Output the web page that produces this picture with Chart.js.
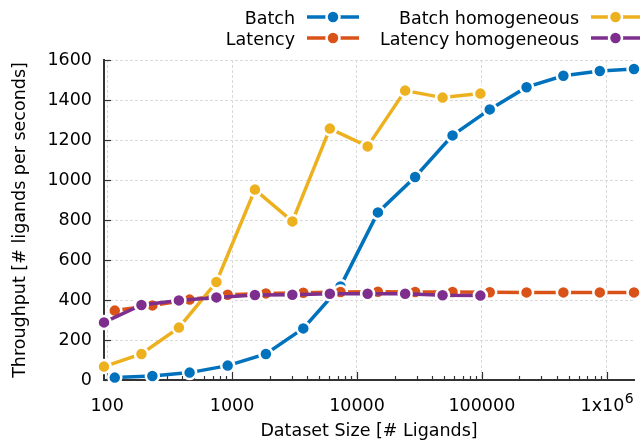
<!DOCTYPE html>
<html>
<head>
<meta charset="utf-8">
<script src="https://cdn.jsdelivr.net/npm/chart.js@4/dist/chart.umd.min.js"></script>
<style>
  html, body { margin: 0; padding: 0; background: #fff; }
  #wrap { width: 643px; height: 440px; }
</style>
</head>
<body>
<div id="wrap"><canvas id="c" width="643" height="440"></canvas></div>
<script>
// Dataset sizes (# ligands) for each run family
const batchSizes = [115, 230, 457, 922, 1865, 3716, 7380, 14710, 29210, 58240, 115600, 227900, 449300, 879400, 1652000];
const homogSizes = [94.3, 188, 375, 749, 1524, 3038, 6064, 12170, 24310, 48460, 97300];

// Throughput (# ligands per second)
const batchThroughput        = [12, 20, 37, 72, 130, 258, 468, 838, 1015, 1223, 1353, 1464, 1521, 1545, 1555];
const latencyThroughput      = [347, 373, 402, 426, 433, 436, 440, 441, 440, 440, 439, 438, 438, 438, 438];
const batchHomogThroughput   = [67, 130, 262, 490, 952, 793, 1257, 1168, 1447, 1412, 1432];
const latencyHomogThroughput = [288, 375, 398, 413, 425, 426, 431, 431, 431, 424, 422];

// Axis ticks
const xMajorTicks = [100, 1000, 10000, 100000, 1000000];
const yTicks = [0, 200, 400, 600, 800, 1000, 1200, 1400, 1600];

const FONT = "'DejaVu Sans', sans-serif";
const FONT_SIZE = 17.5;
const X_LABEL_PAD = 16;

const seriesDefs = [
  { label: 'Batch',                xs: batchSizes, ys: batchThroughput,        color: '#0072BD', order: 4 },
  { label: 'Latency',              xs: batchSizes, ys: latencyThroughput,      color: '#D95319', order: 3 },
  { label: 'Batch homogeneous',    xs: homogSizes, ys: batchHomogThroughput,   color: '#EDB120', order: 2 },
  { label: 'Latency homogeneous',  xs: homogSizes, ys: latencyHomogThroughput, color: '#7E2F8E', order: 1 }
];

const isPow10 = v => Math.abs(Math.log10(v) - Math.round(Math.log10(v))) < 1e-9;

// Decade ticks plus 2..9 minors inside the axis range
function logTicks(min, max) {
  const out = [];
  for (let e = Math.floor(Math.log10(min)); e <= Math.ceil(Math.log10(max)); e++) {
    for (let m = 1; m <= 9; m++) {
      const v = m * Math.pow(10, e);
      if (v >= min && v <= max) out.push({ value: v, major: m === 1 });
    }
  }
  return out;
}

// Decade label text; 10^6 gets its exponent drawn separately as a raised "6"
function decadeLabel(v) {
  if (!xMajorTicks.includes(v)) return '';
  return v === 1000000 ? '1x10\u2002' : String(v);
}

// Inward tick marks on the bottom and left axes
const inwardTicks = {
  id: 'inwardTicks',
  beforeDatasetsDraw(chart) {
    const { ctx, chartArea: a, scales: { x, y } } = chart;
    ctx.save();
    ctx.strokeStyle = '#333';
    ctx.lineWidth = 1.2;
    x.ticks.forEach(t => {
      const px = Math.round(x.getPixelForValue(t.value)) + 0.5;
      const len = isPow10(t.value) ? 8 : 4;
      ctx.beginPath();
      ctx.moveTo(px, a.bottom);
      ctx.lineTo(px, a.bottom - len);
      ctx.stroke();
    });
    y.ticks.forEach(t => {
      const py = Math.round(y.getPixelForValue(t.value)) + 0.5;
      ctx.beginPath();
      ctx.moveTo(a.left, py);
      ctx.lineTo(a.left + 7, py);
      ctx.stroke();
    });
    ctx.restore();
  }
};

// Raised exponent for the 1x10^6 tick label
const exponentLabel = {
  id: 'exponentLabel',
  afterDraw(chart) {
    const { ctx, scales: { x } } = chart;
    const v = 1000000;
    if (v > x.max) return;
    ctx.save();
    ctx.font = FONT_SIZE + 'px ' + FONT;
    const full = ctx.measureText(decadeLabel(v)).width;
    const base = ctx.measureText('1x10').width;
    const px = x.getPixelForValue(v) - full / 2 + base + 0.5;
    const midY = x.top + X_LABEL_PAD + FONT_SIZE * 1.2 / 2;
    ctx.font = (FONT_SIZE * 0.8) + 'px ' + FONT;
    ctx.fillStyle = '#000';
    ctx.textAlign = 'left';
    ctx.textBaseline = 'middle';
    ctx.fillText('6', px, midY - 7);
    ctx.restore();
  }
};

// Two-column key above the plot: right-aligned text followed by a line sample with a marker
const keyBox = {
  id: 'keyBox',
  afterDraw(chart) {
    const ctx = chart.ctx;
    const cols = [
      { textRight: 295, x0: 307, x1: 359 },
      { textRight: 579, x0: 591, x1: 640 }
    ];
    const rows = [{ base: 24, mid: 17 }, { base: 45, mid: 38 }];
    ctx.save();
    ctx.font = FONT_SIZE + 'px ' + FONT;
    ctx.textAlign = 'right';
    ctx.textBaseline = 'alphabetic';
    chart.data.datasets.forEach((ds, i) => {
      const col = cols[Math.floor(i / 2)];
      const row = rows[i % 2];
      ctx.fillStyle = '#000';
      ctx.fillText(ds.label, col.textRight, row.base);
      ctx.strokeStyle = ds.borderColor;
      ctx.lineWidth = 3.5;
      ctx.beginPath();
      ctx.moveTo(col.x0, row.mid);
      ctx.lineTo(col.x1, row.mid);
      ctx.stroke();
      const cx = (col.x0 + col.x1) / 2;
      ctx.beginPath();
      ctx.arc(cx, row.mid, 6.5, 0, Math.PI * 2);
      ctx.fillStyle = ds.borderColor;
      ctx.fill();
      ctx.lineWidth = 2.5;
      ctx.strokeStyle = '#fff';
      ctx.stroke();
    });
    ctx.restore();
  }
};

const datasets = seriesDefs.map(s => ({
  label: s.label,
  data: s.xs.map((x, i) => ({ x, y: s.ys[i] })),
  borderColor: s.color,
  backgroundColor: s.color,
  borderWidth: 3.5,
  pointRadius: 6.5,
  pointHoverRadius: 6.5,
  pointBackgroundColor: s.color,
  pointBorderColor: '#fff',
  pointBorderWidth: 2.5,
  tension: 0,
  fill: false,
  clip: false,
  order: s.order
}));

new Chart(document.getElementById('c'), {
  type: 'line',
  data: { datasets },
  options: {
    responsive: false,
    animation: false,
    devicePixelRatio: 1,
    layout: { padding: { top: 60, right: 6, bottom: 0, left: 0 } },
    plugins: { legend: { display: false }, tooltip: { enabled: false } },
    scales: {
      x: {
        type: 'logarithmic',
        min: homogSizes[0],
        max: batchSizes[batchSizes.length - 1],
        afterBuildTicks: scale => { scale.ticks = logTicks(scale.min, scale.max); },
        afterFit: scale => {
          scale.height = 60;
          // the plot edge is set by the layout padding, not by label overhang
          scale.paddingLeft = 0;
          scale.paddingRight = 0;
        },
        ticks: {
          autoSkip: false,
          maxRotation: 0,
          padding: X_LABEL_PAD,
          color: '#000',
          font: { family: FONT, size: FONT_SIZE },
          callback: v => decadeLabel(v)
        },
        grid: {
          drawTicks: false,
          color: ctx => (ctx.tick && xMajorTicks.includes(ctx.tick.value) ? '#d9d9d9' : 'rgba(0,0,0,0)'),
          lineWidth: 1
        },
        border: { display: true, color: '#333', width: 2, dash: [3, 2] },
        title: {
          display: true,
          text: 'Dataset Size [# Ligands]',
          color: '#000',
          font: { family: FONT, size: FONT_SIZE },
          padding: { top: 0, bottom: -2 }
        }
      },
      y: {
        type: 'linear',
        min: yTicks[0],
        max: yTicks[yTicks.length - 1],
        afterBuildTicks: scale => { scale.ticks = yTicks.map(v => ({ value: v })); },
        afterFit: scale => { scale.width = 104; },
        ticks: {
          padding: 12,
          color: '#000',
          font: { family: FONT, size: FONT_SIZE },
          callback: v => String(v)
        },
        grid: { drawTicks: false, color: '#d9d9d9', lineWidth: 1 },
        border: { display: true, color: '#333', width: 2, dash: [3, 2] },
        title: {
          display: true,
          text: 'Throughput [# ligands per seconds]',
          color: '#000',
          font: { family: FONT, size: FONT_SIZE },
          padding: { top: 9.5, bottom: 0 }
        }
      }
    }
  },
  plugins: [inwardTicks, exponentLabel, keyBox]
});
</script>
</body>
</html>
